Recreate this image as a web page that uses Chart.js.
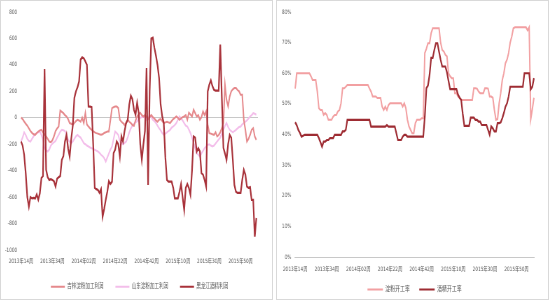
<!DOCTYPE html>
<html><head><meta charset="utf-8">
<script src="https://cdn.jsdelivr.net/npm/chart.js@4.4.0/dist/chart.umd.min.js"></script>
<style>
html,body{margin:0;padding:0;background:#fff;}
body{width:550px;height:300px;position:relative;overflow:hidden;}
.wrap{position:absolute;top:0;height:300px;overflow:hidden;}
.frame{position:absolute;top:0;height:300px;box-sizing:border-box;border:1px solid #d9d9d9;pointer-events:none;}
canvas{position:absolute;left:1px;top:1px;transform:scaleX(0.7);transform-origin:0 0;}
</style></head>
<body>
<div class="wrap" style="left:0;width:273px;"><canvas id="c1" width="387" height="299" style="width:387px;height:299px;"></canvas></div>
<div class="frame" style="left:0;width:273px;"></div>
<div class="wrap" style="left:276px;width:273px;"><canvas id="c2" width="387" height="302" style="width:387px;height:302px;"></canvas></div>
<div class="frame" style="left:276px;width:273px;"></div>
<script>
// ---- categories ----
const startYear = 2013, startWeek = 14, weekCount = 152, weeksPerYear = 52;
const weeks = [];
for (let k = 0, y = startYear, w = startWeek; k < weekCount; k++) {
  weeks.push(y + '年' + String(w).padStart(2, '0') + '周');
  w++; if (w > weeksPerYear) { w = 1; y++; }
}
const shownTicks = ['2013年14周','2013年34周','2014年02周','2014年22周','2014年42周','2015年10周','2015年30周','2015年50周'];

// ---- left chart series (元/吨) ----
const jilinStarchProfit = [
  2,-10,-28,-45,-60,-80,-100,-114,-125,-129,
  -115,-104,-95,-91,-110,-125,-141,-160,-180,-185,
  -170,-140,-100,-80,-66,55,45,35,20,10,
  -10,-40,-45,-53,-40,-25,-15,-20,-30,0,
  -40,35,-50,-66,-80,-91,-100,-110,-116,-120,
  -125,-129,-125,-115,-110,-104,-104,-15,73,80,
  86,86,73,-15,-30,-40,-55,-40,-15,-30,
  -40,-55,-60,-20,10,25,38,20,10,23,
  5,-10,5,20,5,-5,-20,-30,-15,-10,
  -25,-40,-35,-30,-35,-40,-25,-10,0,10,
  0,-15,-5,5,10,20,-15,38,25,10,
  60,35,10,20,-15,5,48,20,48,-53,
  -116,-120,-125,-129,-110,-141,-130,-110,-80,-40,
  250,136,86,161,200,215,225,225,210,200,
  174,174,-15,-91,-180,-160,-129,-91,-78,-141,
  -167];
const shandongStarchProfit = [
  -180,-150,-110,-130,-160,-175,-180,-160,-140,-125,
  -116,-110,-104,-130,-167,-230,-245,-255,-240,-210,
  -195,-185,-175,-150,-130,-105,-91,-95,-100,-130,
  -167,-180,-192,-180,-160,-140,-129,-140,-150,-170,
  -192,-200,-210,-217,-225,-230,-235,-242,-248,-255,
  -265,-280,-290,-305,-331,-300,-270,-240,-217,-160,
  -104,-115,-130,-180,-190,-200,-190,-180,-150,-110,
  -80,-60,-45,-35,-25,-10,0,5,10,0,
  -15,0,20,5,-15,-25,-40,-60,-80,-95,
  -115,-129,-120,-110,-100,-91,-75,-66,-55,-40,
  -15,10,-5,-20,-40,-60,-66,-90,-116,-150,
  -192,-230,-267,-280,-293,-270,-250,-230,-217,-205,
  -200,-210,-217,-210,-195,-180,-165,-150,-120,-91,
  -60,-40,-70,-91,-100,-110,-100,-91,-80,-70,
  -66,-50,-40,-30,-20,-5,10,20,35,30,
  23];
const heilongjiangAlcoholProfit = [
  -180,-210,-280,-420,-600,-672,-600,-610,-606,-610,
  -580,-620,-570,-455,-440,369,-394,-450,-470,-465,
  -470,-480,-520,-460,-450,-440,-318,-290,-180,-129,
  -230,-293,-160,-60,150,200,230,275,440,457,
  450,427,400,86,85,80,-200,-530,-540,-545,
  -568,-540,-748,-690,-620,-560,-480,-500,-483,-267,
  -240,-180,-200,-293,-140,-180,-100,-40,-15,100,
  167,140,60,23,113,38,-200,-318,-200,-100,
  376,-508,200,600,606,530,470,400,300,100,
  10,-40,-300,-470,-483,-483,-483,-530,-609,-609,
  -609,-560,-500,-600,-697,-530,-500,-530,-583,-400,
  -141,-150,-255,-230,-255,-418,-430,-470,-520,200,
  250,283,240,212,205,205,205,553,150,-227,
  -270,-318,-200,-129,-150,-318,-508,-560,-568,-568,
  -568,-470,-394,-430,-520,-530,-525,-621,-621,-899,
  -758];

// ---- right chart series (%) ----
const starchRunRate = [
  55,60,60,60,60,60,60,60,60,60,
  59,57.8,57.8,57.8,54,48.6,48,48,46.4,47,
  46.4,44.8,44.8,44.8,45.8,46.4,46.4,47.5,48,50.2,
  55.1,55.1,55.6,56.2,56.2,56.2,56.2,56.2,56.2,56.2,
  56.2,56.2,56.2,56.2,56.2,56.2,56.2,55,54,52.4,
  52.4,52.4,51.9,51.9,51.9,49.1,48,49.1,48,49.6,
  50.2,50.2,50.2,50.2,50.2,50.2,50.2,50.2,49.1,50.2,
  48.6,44.8,42.6,41.5,40.4,40.4,43.7,44.8,44.8,44.8,
  45.3,45.3,66.6,68,69.8,69.8,73.1,74.7,74.7,74.7,
  74.7,74.7,70,67.6,67.1,66,65.5,60,59,58.4,
  58.4,53.5,53.5,52.4,52,51.3,51.3,51.3,51.3,51.3,
  51.3,51.3,51.3,55.1,55.1,55,54,53.5,53.5,53.5,
  55.1,55.1,55,52.4,52.4,52,48,44.8,45,50.2,
  53.5,57.8,60,63.3,64.5,66.6,70,72,74.7,75,
  75,75,75,75,75,75,75,74,75,45,
  48.3,52];
const alcoholRunRate = [
  44,43,41.5,40.5,39.3,39.6,39.9,39.9,39.9,39.9,
  39.9,39.9,39.9,39.9,39.9,38.8,37.5,36,37.7,37.7,
  38.2,38.2,38.8,38.8,38.8,39.9,39.9,39.9,39.9,39.9,
  41,41,41.5,44.8,44.8,44.8,44.8,44.8,44.8,44.8,
  44.8,44.8,44.8,44.8,44.8,44.8,44.8,44.8,42.6,42.6,
  42.6,42.6,42.6,42.6,42.6,42.6,42.6,42.6,43.1,42.6,
  42.6,42.6,42.6,42.6,40.4,38.2,38.2,38.2,39.3,39.9,
  39.9,39.3,39.3,39.3,39.3,39.3,39.3,39.3,39.3,39.3,
  39.3,39.3,45.8,55.1,56,59.5,65,65,67.6,69.8,
  69.8,67,64.4,62.2,62.2,62.2,60.3,57.5,54.8,54.8,
  54.8,54.8,54.8,53,52,51.3,46.7,42.8,42.8,42.8,
  42.8,45.5,45.5,45.5,44.8,44.8,44.2,44.2,43.1,43.1,
  43.1,43.1,41.5,39.9,42.6,42,41,41,43.7,43.7,
  44,45.3,47,49.1,50.2,52.4,55.6,55.6,55.6,55.6,
  55.6,55.6,55.6,55.6,55.6,60,60,60,60,54.8,
  55.6,58.4];

const leftTicks = [-1000,-800,-600,-400,-200,0,200,400,600,800];
const rightTicks = [0,10,20,30,40,50,60,70,80];

const FONT = "'DejaVu Sans','Noto Sans CJK SC',sans-serif";
const TXT = '#595959';

function xTickCb(v) {
  const l = this.getLabelForValue(v);
  return shownTicks.includes(l) ? l : '';
}
function lineDs(label, data, color, width, order) {
  return {label, data, borderColor: color, backgroundColor: color, borderWidth: width,
    pointRadius: 0, pointHoverRadius: 0, tension: 0, fill: false, order};
}
const byIndex = (a, b) => a.datasetIndex - b.datasetIndex;

new Chart(document.getElementById('c1'), {
  type: 'line',
  data: {
    labels: weeks,
    datasets: [
      lineDs('吉林淀粉加工利润', jilinStarchProfit, '#E5898C', 2, 1),
      lineDs('山东淀粉加工利润', shandongStarchProfit, '#F3BEEA', 2, 2),
      lineDs('黑龙江酒精利润', heilongjiangAlcoholProfit, '#A8323A', 2.2, 0)
    ]
  },
  options: {
    responsive: false, animation: false,
    layout: {padding: {top: 11, right: 20, bottom: 0, left: 0}},
    plugins: {
      tooltip: {enabled: false},
      legend: {position: 'bottom', fullSize: false,
        labels: {usePointStyle: true, pointStyle: 'line', pointStyleWidth: 20, padding: 17, sort: byIndex,
          color: TXT, font: {size: 6.5, family: FONT}}}
    },
    scales: {
      x: {
        grid: {display: false, drawTicks: false, tickLength: 0},
        border: {display: false},
        ticks: {autoSkip: false, maxRotation: 0, minRotation: 0, padding: 7.5, color: TXT,
          font: {size: 6, family: FONT}, callback: xTickCb},
        afterFit: s => { s.height = 16.5; }
      },
      y: {
        min: leftTicks[0], max: leftTicks[leftTicks.length - 1],
        afterBuildTicks: s => { s.ticks = leftTicks.map(v => ({value: v})); },
        grid: {drawTicks: false, tickLength: 0,
          color: c => (c.tick && c.tick.value === 0) ? '#c8c8c8' : 'rgba(0,0,0,0)'},
        border: {display: false},
        ticks: {padding: 5.5, color: TXT, font: {size: 6, family: FONT}, callback: v => String(v)},
        afterFit: s => { s.width = 28.6; }
      }
    }
  }
});

new Chart(document.getElementById('c2'), {
  type: 'line',
  data: {
    labels: weeks,
    datasets: [
      lineDs('淀粉开工率', starchRunRate, '#F2A0A2', 2, 1),
      lineDs('酒精开工率', alcoholRunRate, '#9E2C33', 2.2, 0)
    ]
  },
  options: {
    responsive: false, animation: false,
    layout: {padding: {top: 11, right: 20, bottom: 0, left: 0}},
    plugins: {
      tooltip: {enabled: false},
      legend: {position: 'bottom', fullSize: false,
        labels: {usePointStyle: true, pointStyle: 'line', pointStyleWidth: 22, padding: 13.5, sort: byIndex,
          color: TXT, font: {size: 7, family: FONT}}}
    },
    scales: {
      x: {
        grid: {display: false, drawTicks: false, tickLength: 0},
        border: {display: true, color: '#c8c8c8', width: 1},
        ticks: {autoSkip: false, maxRotation: 0, minRotation: 0, padding: 8.5, color: TXT,
          font: {size: 6, family: FONT}, callback: xTickCb},
        afterFit: s => { s.height = 15.5; }
      },
      y: {
        min: rightTicks[0], max: rightTicks[rightTicks.length - 1],
        afterBuildTicks: s => { s.ticks = rightTicks.map(v => ({value: v})); },
        grid: {display: false, drawTicks: false, tickLength: 0},
        border: {display: false},
        ticks: {padding: 5.5, color: TXT, font: {size: 6, family: FONT}, callback: v => v + '%'},
        afterFit: s => { s.width = 20; }
      }
    }
  }
});
</script>
</body></html>
